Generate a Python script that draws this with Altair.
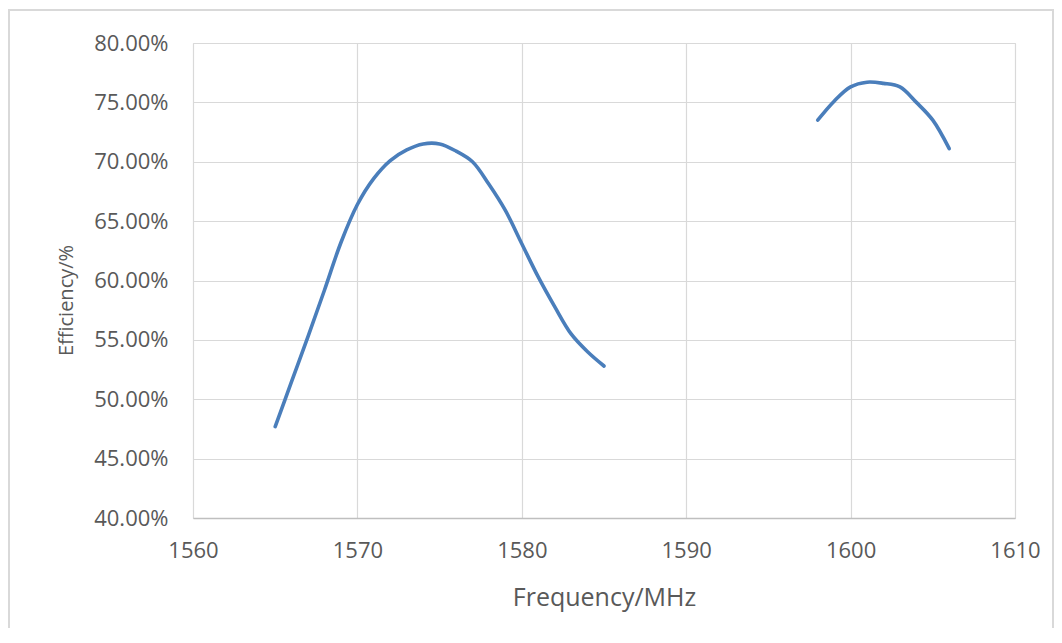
import altair as alt
import pandas as pd

# Band 1 (L1) and band 2 measured efficiency, percent
freq_1 = [1565, 1566, 1567, 1568, 1569, 1570, 1571, 1572, 1573, 1574, 1575,
          1576, 1577, 1578, 1579, 1580, 1581, 1582, 1583, 1584, 1585]
eff_1 = [47.7, 51.5, 55.3, 59.2, 63.2, 66.4, 68.6, 70.1, 71.0, 71.5, 71.5,
         70.9, 70.0, 68.1, 65.9, 63.1, 60.3, 57.8, 55.5, 54.0, 52.8]

freq_2 = [1598, 1599, 1600, 1601, 1602, 1603, 1604, 1605, 1606]
eff_2 = [73.5, 75.1, 76.3, 76.7, 76.6, 76.3, 75.0, 73.5, 71.1]

x_ticks = [1560, 1570, 1580, 1590, 1600, 1610]
y_ticks = [0.40, 0.45, 0.50, 0.55, 0.60, 0.65, 0.70, 0.75, 0.80]

rows = []
for f, e in zip(freq_1, eff_1):
    rows.append({"freq": f, "eff": e / 100.0, "segment": "A"})
for f, e in zip(freq_2, eff_2):
    rows.append({"freq": f, "eff": e / 100.0, "segment": "B"})
df = pd.DataFrame(rows)

FONT = "Open Sans"
GRAY = "#595959"
W, H = 822, 475

line = alt.Chart(df).mark_line(
    color="#4a7ebb", strokeWidth=3.6, interpolate="catmull-rom", strokeCap="round"
).encode(
    x=alt.X("freq:Q",
            scale=alt.Scale(domain=[1560, 1610], nice=False, zero=False),
            axis=alt.Axis(values=x_ticks, format="d", title="Frequency/MHz",
                          ticks=False, tickSize=0, labelPadding=22,
                          labelFlush=False,
                          labelFontSize=22, titleFontSize=25, titlePadding=24,
                          domainColor="#bfbfbf", domainWidth=1.5)),
    y=alt.Y("eff:Q",
            scale=alt.Scale(domain=[0.40, 0.80], nice=False, zero=False),
            axis=alt.Axis(values=y_ticks, format=".2%", title="Efficiency/%",
                          ticks=False, tickSize=0, labelPadding=25,
                          labelFlush=False,
                          labelFontSize=22, titleFontSize=20, titlePadding=17,
                          titleY=257,
                          domain=False)),
    detail="segment:N",
)

border = alt.Chart(alt.Data(values=[{}])).mark_rect(
    fill=None, stroke="#d9d9d9", strokeWidth=2
).encode(
    x=alt.value(-184), x2=alt.value(W + 38),
    y=alt.value(-33), y2=alt.value(H + 130),
)

chart = alt.layer(border, line).properties(
    width=W, height=H,
    autosize=alt.AutoSizeParams(type="none"),
    padding={"left": 185, "top": 35, "right": 39, "bottom": 110},
    background="white",
).configure_view(
    stroke="#d9d9d9", strokeWidth=1
).configure_axis(
    labelFont=FONT, titleFont=FONT, labelColor=GRAY, titleColor=GRAY,
    titleFontWeight="normal", gridColor="#d9d9d9", gridWidth=1.2,
)

chart.save("out.html", embed_options={"renderer": "svg", "actions": False})
